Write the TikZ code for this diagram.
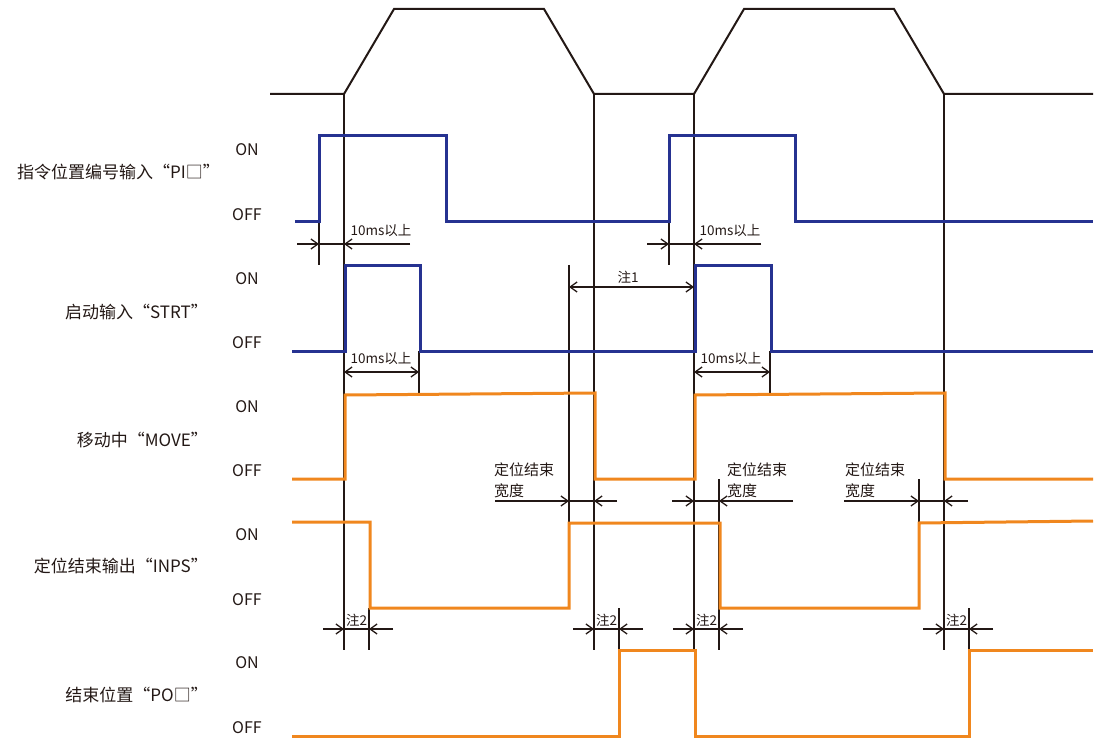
\documentclass[tikz,border=0pt]{standalone}
\usepackage{fontspec}
\setmainfont{Noto Sans CJK SC}
\usetikzlibrary{arrows.meta}
\definecolor{sigblue}{RGB}{38,50,145}
\definecolor{sigorange}{RGB}{240,135,30}
\definecolor{inkline}{RGB}{35,24,21}

\begin{document}
\begin{tikzpicture}[
  x=1pt, y=-1pt,
  guide/.style={draw=inkline, line width=1.3pt},
  profile/.style={draw=inkline, line width=2pt},
  bluesig/.style={draw=sigblue, line width=3pt},
  orangesig/.style={draw=sigorange, line width=3pt},
  dimarrow/.style={guide, -{Straight Barb[length=7pt,width=10pt]}},
  dimboth/.style={guide, {Straight Barb[length=7pt,width=10pt]}-{Straight Barb[length=7pt,width=10pt]}},
  siglabel/.style={anchor=east, inner sep=0pt, text=inkline, font=\fontsize{17}{20}\selectfont},
  level/.style={inner sep=0pt, text=inkline, font=\fontsize{16}{19}\selectfont},
  note/.style={inner sep=0pt, text=inkline, font=\fontsize{13.5}{16}\selectfont},
  widthnote/.style={anchor=west, inner sep=0pt, align=left, text=inkline, font=\fontsize{15}{21}\selectfont}
]
\useasboundingbox (0,0) rectangle (1096,738);

\node[siglabel] (lblPI) at (220,172) {指令位置编号输入“PI□”};
\node[siglabel] (lblSTRT) at (208,312) {启动输入“STRT”};
\node[siglabel] (lblMOVE) at (208,440) {移动中“MOVE”};
\node[siglabel] (lblINPS) at (208,566) {定位结束输出“INPS”};
\node[siglabel] (lblPO) at (208,695) {结束位置“PO□”};

\node[level] (onPI) at (247,150) {ON};
\node[level] (offPI) at (247,215) {OFF};
\node[level] (onSTRT) at (247,279) {ON};
\node[level] (offSTRT) at (247,343) {OFF};
\node[level] (onMOVE) at (247,407) {ON};
\node[level] (offMOVE) at (247,471) {OFF};
\node[level] (onINPS) at (247,535) {ON};
\node[level] (offINPS) at (247,600) {OFF};
\node[level] (onPO) at (247,663) {ON};
\node[level] (offPO) at (247,728) {OFF};

\draw[profile] (270,94) -- (344,94) -- (394,9) -- (544,9) -- (594,94) -- (694,94)
  -- (744,9) -- (894,9) -- (944,94) -- (1093,94);

\draw[guide] (344,94) -- (344,650);
\draw[guide] (594,94) -- (594,650);
\draw[guide] (694,94) -- (694,650);
\draw[guide] (944,94) -- (944,650);
\draw[guide] (319,222) -- (319,265);
\draw[guide] (669,222) -- (669,265);
\draw[guide] (419,351) -- (419,395);
\draw[guide] (770,351) -- (770,395);
\draw[guide] (569,265) -- (569,522);
\draw[guide] (719,479) -- (719,650);
\draw[guide] (919,479) -- (919,522);
\draw[guide] (369,608) -- (369,650);
\draw[guide] (619,608) -- (619,650);
\draw[guide] (969,608) -- (969,650);

\draw[bluesig] (295,222) -- (319,222) -- (319,136) -- (446,136) -- (446,222) -- (669,222)
  -- (669,136) -- (795,136) -- (795,222) -- (1093,222);
\draw[bluesig] (292,351) -- (345,351) -- (345,266) -- (420,266) -- (420,351) -- (695,351)
  -- (695,266) -- (771,266) -- (771,351) -- (1093,351);
\draw[orangesig] (292,479) -- (345,479) -- (345,395) -- (595,393) -- (595,479) -- (695,479)
  -- (695,395) -- (945,393) -- (945,479) -- (1093,479);
\draw[orangesig] (292,522) -- (370,522) -- (370,608) -- (569,608) -- (569,523) -- (720,523)
  -- (720,608) -- (919,608) -- (919,523) -- (1093,521);
\draw[orangesig] (292,736) -- (619,736) -- (619,650) -- (695,650) -- (695,736) -- (969,736)
  -- (969,650) -- (1093,650);

\draw[dimarrow] (297,244) -- (319,244);
\draw[guide] (319,244) -- (344,244);
\draw[dimarrow] (410,244) -- (344,244);
\node[note] (tenA) at (381,231) {10ms以上};
\draw[dimarrow] (647,244) -- (669,244);
\draw[guide] (669,244) -- (694,244);
\draw[dimarrow] (761,244) -- (694,244);
\node[note] (tenB) at (730,231) {10ms以上};

\draw[dimboth] (344,372) -- (419,372);
\node[note] (tenC) at (381,359) {10ms以上};
\draw[dimboth] (694,372) -- (770,372);
\node[note] (tenD) at (731,359) {10ms以上};

\draw[dimboth] (569,287) -- (694,287);
\node[note] (noteOne) at (628,277) {注1};

\node[widthnote] (widthA) at (494,480) {定位结束\\宽度};
\draw[dimarrow] (495,501) -- (569,501);
\draw[guide] (569,501) -- (594,501);
\draw[dimarrow] (617,501) -- (594,501);
\node[widthnote] (widthB) at (727,480) {定位结束\\宽度};
\draw[dimarrow] (672,501) -- (694,501);
\draw[guide] (694,501) -- (719,501);
\draw[dimarrow] (793,501) -- (719,501);
\node[widthnote] (widthC) at (845,480) {定位结束\\宽度};
\draw[dimarrow] (844,501) -- (919,501);
\draw[guide] (919,501) -- (944,501);
\draw[dimarrow] (968,501) -- (944,501);

\foreach \a/\b in {344/369, 594/619, 694/719, 944/969} {
  \draw[dimarrow] (\a-21,629) -- (\a,629);
  \draw[guide] (\a,629) -- (\b,629);
  \draw[dimarrow] (\b+24,629) -- (\b,629);
  \node[note] (noteTwo-\a) at ({(\a+\b)/2},620) {注2};
}
\end{tikzpicture}
\end{document}
